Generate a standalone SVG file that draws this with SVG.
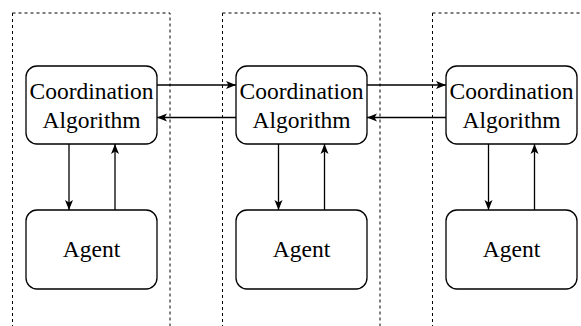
<svg xmlns="http://www.w3.org/2000/svg" width="581" height="326" viewBox="0 0 581 326">
<style>
.grp{fill:none;stroke:#000;stroke-width:1;stroke-dasharray:3 3}
.box{fill:#fff;stroke:#000;stroke-width:1.3}
.t{font-family:"Liberation Serif","Times New Roman",serif;font-size:23.5px;fill:#000;text-anchor:middle}
.c{stroke:#000;stroke-width:1.3;fill:none;marker-end:url(#ah)}
</style>
<defs>
<marker id="ah" viewBox="0 0 10 10" refX="10" refY="5" markerWidth="10" markerHeight="10" markerUnits="userSpaceOnUse" orient="auto">
<path d="M0,1 L10,5 L0,9 L2.5,5 Z" fill="#000"/>
</marker>
</defs>
<rect fill="#fff" x="0" y="0" width="581" height="326"/>
<g id="groups">
<rect class="grp" x="12.5" y="13" width="157.5" height="330"/>
<rect class="grp" x="222.5" y="13" width="157.5" height="330"/>
<rect class="grp" x="432.5" y="13" width="157.5" height="330"/>
</g>
<g id="connectors">
<line class="c" x1="157" y1="85" x2="236" y2="85"/>
<line class="c" x1="236" y1="117.5" x2="157" y2="117.5"/>
<line class="c" x1="367" y1="85" x2="446" y2="85"/>
<line class="c" x1="446" y1="117.5" x2="367" y2="117.5"/>
<line class="c" x1="69" y1="144" x2="69" y2="210"/>
<line class="c" x1="115" y1="210" x2="115" y2="144"/>
<line class="c" x1="278.5" y1="144" x2="278.5" y2="210"/>
<line class="c" x1="324.5" y1="210" x2="324.5" y2="144"/>
<line class="c" x1="488.5" y1="144" x2="488.5" y2="210"/>
<line class="c" x1="534.5" y1="210" x2="534.5" y2="144"/>
</g>
<g id="coord1"><rect class="box" x="26" y="66" width="131" height="78" rx="11"/><text class="t" x="91.5" y="99">Coordination</text><text class="t" x="91.5" y="128">Algorithm</text></g>
<g id="coord2"><rect class="box" x="236" y="66" width="131" height="78" rx="11"/><text class="t" x="301.5" y="99">Coordination</text><text class="t" x="301.5" y="128">Algorithm</text></g>
<g id="coord3"><rect class="box" x="446" y="66" width="131" height="78" rx="11"/><text class="t" x="511.5" y="99">Coordination</text><text class="t" x="511.5" y="128">Algorithm</text></g>
<g id="agent1"><rect class="box" x="26" y="210" width="131" height="79" rx="11"/><text class="t" x="91.5" y="257">Agent</text></g>
<g id="agent2"><rect class="box" x="236" y="210" width="131" height="79" rx="11"/><text class="t" x="301.5" y="257">Agent</text></g>
<g id="agent3"><rect class="box" x="446" y="210" width="131" height="79" rx="11"/><text class="t" x="511.5" y="257">Agent</text></g>
</svg>
